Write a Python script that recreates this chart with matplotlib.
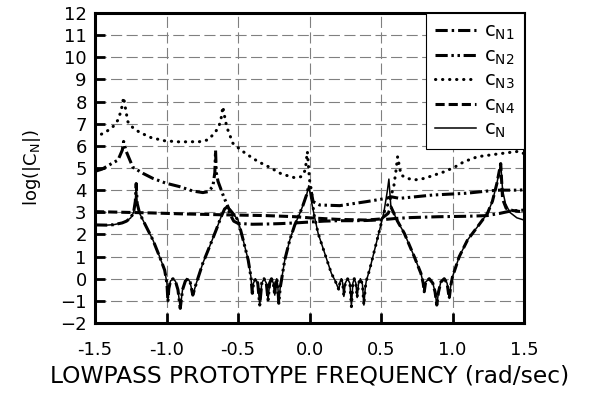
import numpy as np
import matplotlib
matplotlib.use('Agg')
import matplotlib.pyplot as plt

# --- data (x = lowpass prototype freq, y = log|C|) ---
# shared pieces: the composite c_N and whichever c_Ni follows it in each band
rise_x = [-1.5, -1.42, -1.37, -1.31, -1.28, -1.25, -1.23, -1.218, -1.212]
rise_y = [2.43, 2.42, 2.44, 2.52, 2.60, 2.75, 3.00, 3.50, 4.30]

band1_x = [-1.205, -1.188, -1.142, -1.095, -1.048, -1.013, -0.997, -0.990, -0.984,
           -0.972, -0.955, -0.937, -0.920, -0.904, -0.888, -0.868, -0.851, -0.835,
           -0.816, -0.792, -0.746, -0.699, -0.653, -0.618, -0.594, -0.575]
band1_y = [3.40, 2.95, 2.35, 1.75, 0.99, 0.39, -0.21, -1.04, -0.45,
           -0.10, 0.00, -0.12, -0.50, -1.34, -0.50, -0.10, 0.00, -0.15,
           -0.74, -0.21, 0.70, 1.45, 2.20, 2.80, 3.15, 3.25]

band2_x = [-0.555, -0.53, -0.50, -0.464, -0.429, -0.410, -0.400, -0.392, -0.378,
           -0.362, -0.348, -0.334, -0.318, -0.302, -0.290, -0.279, -0.266, -0.253,
           -0.243, -0.237, -0.229, -0.222, -0.215, -0.205, -0.196, -0.173, -0.138,
           -0.103, -0.068, -0.045, -0.020, -0.005]
band2_y = [3.10, 2.90, 2.65, 1.75, 0.85, 0.10, -0.66, -0.20, 0.00,
           -0.20, -1.19, -0.20, 0.00, -0.20, -0.96, -0.20, 0.00, -0.20,
           -0.74, -0.20, 0.00, -0.30, -1.11, -0.40, -0.06, 0.85, 1.75,
           2.43, 2.95, 3.33, 3.80, 4.20]

band3_x = [0.010, 0.030, 0.060, 0.106, 0.153, 0.180, 0.205, 0.213, 0.222, 0.232,
           0.240, 0.250, 0.266, 0.282, 0.293, 0.303, 0.313, 0.324, 0.333, 0.343,
           0.356, 0.370, 0.380, 0.390, 0.397, 0.420, 0.455, 0.490, 0.520, 0.545,
           0.555]
band3_y = [3.60, 2.95, 2.05, 1.15, 0.24, -0.10, -0.50, -0.15, 0.00, -0.20,
           -0.80, -0.20, 0.00, -0.20, -1.26, -0.20, 0.00, -0.20, -0.85, -0.20,
           0.00, -0.25, -1.19, -0.40, -0.10, 0.40, 1.30, 2.20, 3.00, 4.00,
           4.50]

band4_x = [0.569, 0.615, 0.663, 0.733, 0.779, 0.795, 0.802, 0.812, 0.837, 0.862,
           0.878, 0.890, 0.902, 0.918, 0.942, 0.962, 0.977, 0.988, 1.000, 1.047,
           1.105, 1.175, 1.244, 1.279, 1.310, 1.337]
band4_y = [3.25, 2.60, 2.05, 0.99, 0.24, -0.20, -0.59, -0.15, 0.00, -0.20,
           -0.60, -1.19, -0.60, -0.15, 0.00, -0.20, -0.89, -0.30, 0.09, 1.00,
           1.75, 2.35, 2.95, 3.50, 4.30, 5.20]

cn_tail_x = [1.350, 1.370, 1.400, 1.450, 1.500]
cn_tail_y = [4.00, 3.40, 3.00, 2.75, 2.65]

cn1_right_x = [-0.555, -0.53, -0.50, -0.40, -0.30, -0.20, -0.10, 0.00, 0.10, 0.20, 0.30,
               0.40, 0.50, 0.60, 0.70, 0.80, 0.90, 1.00, 1.10, 1.24, 1.33, 1.40, 1.50]
cn1_right_y = [2.90, 2.60, 2.50, 2.46, 2.47, 2.49, 2.52, 2.56, 2.60, 2.62, 2.62,
               2.63, 2.66, 2.72, 2.76, 2.78, 2.80, 2.81, 2.82, 2.85, 2.95, 3.05, 3.10]

cn2_left_x = [-1.5, -1.45, -1.40, -1.339, -1.309, -1.300, -1.281, -1.235, -1.165, -1.095,
              -1.002, -0.909, -0.816, -0.746, -0.711, -0.676, -0.662, -0.657, -0.652,
              -0.640, -0.600, -0.560]
cn2_left_y = [4.85, 4.95, 5.14, 5.36, 5.81, 6.20, 5.74, 5.03, 4.76, 4.53,
              4.31, 4.16, 3.96, 3.89, 3.93, 4.16, 4.80, 5.80, 4.80,
              4.40, 3.70, 3.10]
cn2_right_x = [0.010, 0.025, 0.071, 0.211, 0.397, 0.537, 0.570, 0.630, 0.862, 1.096,
               1.258, 1.330, 1.400, 1.468, 1.500]
cn2_right_y = [4.00, 3.48, 3.33, 3.30, 3.48, 3.63, 3.70, 3.63, 3.78, 3.86,
               3.97, 4.00, 4.00, 4.00, 4.02]

cn3_left_x = [-1.5, -1.467, -1.421, -1.374, -1.339, -1.316, -1.300, -1.281, -1.270, -1.235,
              -1.188, -1.107, -1.013, -0.909, -0.769, -0.711, -0.664, -0.634, -0.618,
              -0.606, -0.587, -0.571, -0.536, -0.487, -0.441, -0.360, -0.278, -0.196,
              -0.103, -0.057, -0.029, -0.022, -0.015, 0.000, 0.013]
cn3_left_y = [6.40, 6.49, 6.64, 6.87, 7.17, 7.62, 8.19, 7.47, 7.09, 6.82,
              6.61, 6.37, 6.23, 6.18, 6.19, 6.27, 6.57, 6.87, 7.25,
              7.77, 7.09, 6.72, 6.12, 5.85, 5.63, 5.29, 5.03, 4.73,
              4.56, 4.61, 4.91, 5.36, 5.74, 4.46, 4.00]
cn3_right_x = [0.560, 0.590, 0.605, 0.616, 0.640, 0.686, 0.733, 0.802, 0.872, 0.942,
               1.012, 1.082, 1.175, 1.300, 1.420, 1.460, 1.500]
cn3_right_y = [3.50, 4.20, 4.90, 5.51, 4.68, 4.53, 4.46, 4.53, 4.68, 4.83,
               5.03, 5.29, 5.51, 5.62, 5.72, 5.75, 5.65]

cn4_left_x = [-1.5, -1.3, -1.1, -0.9, -0.7, -0.55, -0.3, -0.1, 0.0, 0.2, 0.4, 0.5, 0.55]
cn4_left_y = [3.03, 3.00, 2.97, 2.93, 2.90, 2.88, 2.85, 2.80, 2.75, 2.68, 2.65, 2.70, 2.95]
cn4_right_x = [1.350, 1.375, 1.420, 1.480, 1.500]
cn4_right_y = [3.60, 3.18, 3.08, 3.03, 3.00]

x_ticks = [-1.5, -1.0, -0.5, 0.0, 0.5, 1.0, 1.5]
y_ticks = list(range(-2, 13))

# assemble each curve from its pieces
cn_x = rise_x + band1_x + band2_x + band3_x + band4_x + cn_tail_x
cn_y = rise_y + band1_y + band2_y + band3_y + band4_y + cn_tail_y
cn1_x = rise_x + band1_x + cn1_right_x
cn1_y = rise_y + band1_y + cn1_right_y
cn2_x = cn2_left_x + band2_x + cn2_right_x
cn2_y = cn2_left_y + band2_y + cn2_right_y
cn3_x = cn3_left_x + band3_x[1:-2] + cn3_right_x   # follows c_N through band 3
cn3_y = cn3_left_y + band3_y[1:-2] + cn3_right_y
cn4_x = cn4_left_x + band4_x + cn4_right_x
cn4_y = cn4_left_y + band4_y + cn4_right_y

plt.rcParams['font.family'] = ['DejaVu Sans']

fig = plt.figure(figsize=(5.89, 3.93), dpi=100)
ax = fig.add_axes([0.1613, 0.1781, 0.7284, 0.7888])

ax.plot(cn1_x, cn1_y, color='black', lw=2.2, ls=(0, (4, 1.3, 0.8, 1.3)),
        label=r'c$_\mathregular{N1}$')
ax.plot(cn2_x, cn2_y, color='black', lw=2.2, ls=(0, (4, 1.2, 0.8, 1.2, 0.8, 1.2)),
        label=r'c$_\mathregular{N2}$')
ax.plot(cn3_x, cn3_y, color='black', lw=2.2, ls=(0, (0.1, 2.2)),
        dash_capstyle='round', label=r'c$_\mathregular{N3}$')
ax.plot(cn4_x, cn4_y, color='black', lw=2.2, ls=(0, (3, 1.3)),
        label=r'c$_\mathregular{N4}$')
ax.plot(cn_x, cn_y, color='black', lw=1.1, label=r'c$_\mathregular{N}$')

ax.set_xlim(-1.5, 1.5)
ax.set_ylim(-2, 12)
ax.set_xticks(x_ticks)
ax.set_xticklabels(['%.1f' % v for v in x_ticks])
ax.set_yticks(y_ticks)

ax.grid(True, color='#808080', lw=0.8, dashes=(10, 4))
ax.set_axisbelow(True)
for s in ax.spines.values():
    s.set_linewidth(2.2)
ax.tick_params(direction='in', length=7, width=2, labelsize=13)
ax.tick_params(axis='x', pad=13)
ax.tick_params(axis='y', pad=6)

ax.set_xlabel('LOWPASS PROTOTYPE FREQUENCY (rad/sec)', fontsize=16.8, labelpad=4)
ax.set_ylabel(r'log(|C$_\mathregular{N}$|)', fontsize=13, labelpad=12)

leg = ax.legend(loc='upper right', bbox_to_anchor=(1, 1), borderaxespad=0,
                fontsize=14, handlelength=2.1, handletextpad=0.45,
                labelspacing=0.22, borderpad=0.45, fancybox=False, framealpha=1)
leg.get_frame().set_edgecolor('black')
leg.get_frame().set_linewidth(0.8)

fig.savefig('out.png', dpi=100)
